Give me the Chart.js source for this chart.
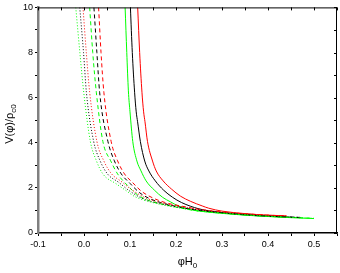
<!DOCTYPE html>
<html lang="en">
<head>
<meta charset="UTF-8">
<title>V(phi) vs phi H0</title>
<script src="https://cdn.jsdelivr.net/npm/chart.js"></script>
<style>
  html, body { margin: 0; padding: 0; background: #fff; }
  #wrap { width: 340px; height: 273px; position: relative; }
</style>
</head>
<body>
<div id="wrap"><canvas id="potChart"></canvas></div>
<script>
// values: x = phi*H0, v = V(phi)/rho_c0
const greenSolidX = [0.0894, 0.093, 0.0965, 0.100, 0.106, 0.115, 0.124, 0.135, 0.153, 0.171, 0.188, 0.205, 0.228, 0.26, 0.30, 0.35, 0.40, 0.45, 0.50];
const greenSolidV = [10, 8, 6.3, 5.37, 4.06, 3.19, 2.75, 2.31, 1.9, 1.58, 1.38, 1.2, 1.05, 0.95, 0.87, 0.79, 0.73, 0.68, 0.64];
const blackSolidX = [0.1009, 0.105, 0.110, 0.1135, 0.1165, 0.1225, 0.132, 0.141, 0.155, 0.173, 0.192, 0.212, 0.25, 0.30, 0.35, 0.40, 0.47];
const blackSolidV = [10, 8, 6.24, 5.37, 4.93, 4.06, 3.19, 2.75, 2.31, 1.9, 1.59, 1.35, 1.07, 0.9, 0.8, 0.74, 0.68];
const redSolidX = [0.1167, 0.121, 0.126, 0.1296, 0.1326, 0.138, 0.149, 0.157, 0.172, 0.19, 0.21, 0.232, 0.257, 0.271, 0.30, 0.35, 0.40, 0.44];
const redSolidV = [10, 8, 6.24, 5.37, 4.93, 4.06, 3.19, 2.75, 2.31, 1.95, 1.63, 1.4, 1.2, 1.1, 0.97, 0.86, 0.79, 0.76];

const greenDashX = [0.0123, 0.019, 0.0268, 0.041, 0.058, 0.073, 0.095, 0.117, 0.14, 0.17, 0.205, 0.24, 0.30, 0.40, 0.50];
const greenDashV = [10, 8, 6.24, 4.06, 3.2, 2.62, 2.1, 1.68, 1.45, 1.28, 1.13, 1.0, 0.88, 0.74, 0.65];
const blackDashX = [0.0216, 0.028, 0.034, 0.052, 0.066, 0.081, 0.10, 0.12, 0.14, 0.17, 0.205, 0.24, 0.30, 0.40, 0.47];
const blackDashV = [10, 8, 6.24, 4.06, 3.2, 2.62, 2.2, 1.8, 1.55, 1.33, 1.16, 1.03, 0.9, 0.75, 0.69];
const redDashX = [0.0317, 0.037, 0.0432, 0.059, 0.073, 0.088, 0.105, 0.125, 0.15, 0.18, 0.21, 0.25, 0.30, 0.40, 0.44];
const redDashV = [10, 8, 6.24, 4.06, 3.2, 2.62, 2.25, 1.85, 1.55, 1.33, 1.2, 1.05, 0.93, 0.79, 0.76];

const greenDotX = [-0.0179, -0.009, -0.0006, 0.0138, 0.027, 0.041, 0.07, 0.09, 0.11, 0.14, 0.17, 0.205, 0.24, 0.30, 0.40, 0.50];
const greenDotV = [10, 8, 6.24, 4.06, 3.2, 2.62, 2.18, 1.9, 1.62, 1.4, 1.25, 1.12, 1.0, 0.88, 0.74, 0.65];
const blackDotX = [-0.0093, -0.001, 0.0052, 0.021, 0.035, 0.051, 0.075, 0.10, 0.13, 0.17, 0.21, 0.25, 0.30, 0.40, 0.47];
const blackDotV = [10, 8, 6.24, 4.06, 3.2, 2.62, 2.25, 1.85, 1.5, 1.28, 1.13, 1.02, 0.9, 0.75, 0.69];
const redDotX = [-0.0022, 0.005, 0.0123, 0.028, 0.043, 0.06, 0.08, 0.105, 0.135, 0.17, 0.21, 0.25, 0.30, 0.40, 0.44];
const redDotV = [10, 8, 6.24, 4.06, 3.2, 2.62, 2.3, 1.9, 1.55, 1.33, 1.17, 1.05, 0.93, 0.79, 0.76];

const xTickLabels = ['-0.1', '0.0', '0.1', '0.2', '0.3', '0.4', '0.5'];
const yTickLabels = ['0', '2', '4', '6', '8', '10'];

const GREEN = '#00ff00', BLACK = '#000000', RED = '#ff0000';
const FONT = 'Liberation Sans, Arial, sans-serif';

function toPoints(xs, vs) {
    return xs.map((x, i) => ({ x: x, y: vs[i] }));
}

function makeSet(xs, vs, color, dash) {
    return {
        data: toPoints(xs, vs),
        borderColor: color,
        borderWidth: 1,
        borderDash: dash,
        showLine: true,
        pointRadius: 0,
        fill: false,
        cubicInterpolationMode: 'monotone'
    };
}

// frame (top/right lines with inward ticks) and the axis titles
const framePlugin = {
    id: 'frame',
    afterDraw(chart) {
        const ctx = chart.ctx;
        const a = chart.chartArea;
        const xs = chart.scales.x, ys = chart.scales.y;
        ctx.save();
        ctx.strokeStyle = '#000';
        ctx.lineWidth = 1;
        ctx.beginPath();
        ctx.moveTo(a.left, a.top + 0.5);
        ctx.lineTo(a.right, a.top + 0.5);
        ctx.moveTo(a.right - 0.5, a.top);
        ctx.lineTo(a.right - 0.5, a.bottom);
        for (let v = -0.1; v <= 0.551; v += 0.05) {
            const px = Math.round(xs.getPixelForValue(v)) + 0.5;
            ctx.moveTo(px, a.top);
            ctx.lineTo(px, a.top + 3);
        }
        for (let v = 0; v <= 10; v += 1) {
            const py = Math.round(ys.getPixelForValue(v)) + 0.5;
            ctx.moveTo(a.right, py);
            ctx.lineTo(a.right - 3, py);
        }
        ctx.stroke();

        // x title
        ctx.fillStyle = '#000';
        ctx.font = '11px ' + FONT;
        ctx.textBaseline = 'alphabetic';
        const cx = (a.left + a.right) / 2;
        const main = 'φH';
        const w1 = ctx.measureText(main).width;
        ctx.font = '8px ' + FONT;
        const w2 = ctx.measureText('0').width;
        let sx = cx - (w1 + w2) / 2;
        ctx.font = '11px ' + FONT;
        ctx.textAlign = 'left';
        ctx.fillText(main, sx, 265);
        ctx.font = '8px ' + FONT;
        ctx.fillText('0', sx + w1, 268);

        // y title, rotated
        ctx.translate(13, 124);
        ctx.rotate(-Math.PI / 2);
        ctx.font = '11px ' + FONT;
        const t1 = 'V(φ)/ρ';
        const l1 = ctx.measureText(t1).width;
        ctx.font = '8px ' + FONT;
        const l2 = ctx.measureText('c0').width;
        const start = -(l1 + l2) / 2;
        ctx.font = '11px ' + FONT;
        ctx.fillText(t1, start, 0);
        ctx.font = '8px ' + FONT;
        ctx.fillText('c0', start + l1, 3);
        ctx.restore();
    }
};

new Chart(document.getElementById('potChart'), {
    type: 'scatter',
    data: {
        datasets: [
            makeSet(greenDotX, greenDotV, GREEN, [1, 2]),
            makeSet(blackDotX, blackDotV, BLACK, [1, 2]),
            makeSet(redDotX, redDotV, RED, [1, 2]),
            makeSet(greenDashX, greenDashV, GREEN, [4, 3]),
            makeSet(blackDashX, blackDashV, BLACK, [4, 3]),
            makeSet(redDashX, redDashV, RED, [4, 3]),
            makeSet(greenSolidX, greenSolidV, GREEN, []),
            makeSet(blackSolidX, blackSolidV, BLACK, []),
            makeSet(redSolidX, redSolidV, RED, [])
        ]
    },
    options: {
        responsive: true,
        maintainAspectRatio: false,
        animation: false,
        layout: { padding: { top: 4, right: 3, left: 0, bottom: 0 } },
        plugins: {
            legend: { display: false },
            tooltip: { enabled: false }
        },
        scales: {
            x: {
                type: 'linear',
                min: -0.1,
                max: 0.55,
                afterFit(s) { s.height = 40; },
                afterBuildTicks(s) {
                    const t = [];
                    for (let i = 0; i <= 13; i++) t.push({ value: -0.1 + i * 0.05 });
                    s.ticks = t;
                },
                ticks: {
                    autoSkip: false,
                    maxRotation: 0,
                    padding: 3,
                    color: '#000',
                    font: { family: FONT, size: 9 },
                    callback(v, i) { return i % 2 === 0 ? (xTickLabels[i / 2] || '') : ''; }
                },
                grid: { drawOnChartArea: false, tickLength: 3, color: '#000' },
                border: { color: '#000', width: 1.5 }
            },
            y: {
                type: 'linear',
                min: 0,
                max: 10,
                afterFit(s) { s.width = 38; },
                afterBuildTicks(s) {
                    const t = [];
                    for (let i = 0; i <= 10; i++) t.push({ value: i });
                    s.ticks = t;
                },
                ticks: {
                    autoSkip: false,
                    padding: 2,
                    color: '#000',
                    font: { family: FONT, size: 9 },
                    callback(v, i) { return i % 2 === 0 ? yTickLabels[i / 2] : ''; }
                },
                grid: { drawOnChartArea: false, tickLength: 3, color: '#000' },
                border: { color: '#808080', width: 2.5 }
            }
        }
    },
    plugins: [framePlugin]
});
</script>
</body>
</html>
